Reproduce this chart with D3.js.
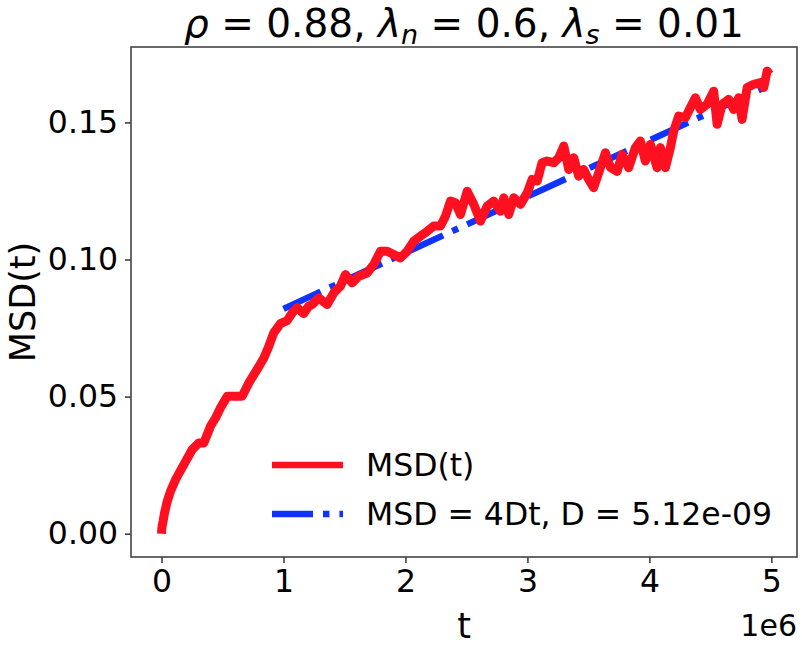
<!DOCTYPE html>
<html>
<head>
<meta charset="utf-8">
<script src="https://cdn.jsdelivr.net/npm/d3@7"></script>
<style>
  body { margin: 0; background: #fff; }
  text { font-family: "DejaVu Sans", sans-serif; fill: #000; }
</style>
</head>
<body>
<script>
// data (t in units of 1e6)
var tMega = [0, 0.002, 0.006, 0.013, 0.025, 0.047, 0.074, 0.115, 0.183, 0.252, 0.306, 0.347, 0.402, 0.443, 0.484, 0.539, 0.593, 0.661,
  0.716, 0.784, 0.839, 0.880, 0.920, 0.975, 1.030, 1.071, 1.112, 1.166, 1.207, 1.235, 1.289, 1.358, 1.412,
  1.467, 1.508, 1.563, 1.617, 1.686, 1.740, 1.795, 1.850, 1.904, 1.959, 2.014, 2.068, 2.123, 2.178, 2.232,
  2.287, 2.328, 2.369, 2.410, 2.451, 2.506, 2.560, 2.615, 2.670, 2.724, 2.779, 2.806, 2.847, 2.888, 2.943,
  2.998, 3.039, 3.080, 3.120, 3.161, 3.216, 3.257, 3.298, 3.339, 3.380, 3.420, 3.461, 3.502, 3.543, 3.584,
  3.639, 3.680, 3.735, 3.776, 3.830, 3.885, 3.926, 3.967, 4.008, 4.063, 4.090, 4.131, 4.172, 4.199, 4.240,
  4.295, 4.336, 4.377, 4.418, 4.473, 4.527, 4.555, 4.596, 4.650, 4.691, 4.732, 4.760, 4.801, 4.855, 4.910,
  4.937, 4.965, 4.986];
var msd = [0, 0.0015, 0.0030, 0.0045, 0.0076, 0.0118, 0.0155, 0.0197, 0.0252, 0.0307, 0.0331, 0.0331, 0.0392, 0.0422, 0.0459, 0.0501, 0.0501, 0.0501,
  0.0550, 0.0599, 0.0641, 0.0684, 0.0732, 0.0766, 0.0777, 0.0805, 0.0824, 0.0803, 0.0830, 0.0836, 0.0860, 0.0836, 0.0878,
  0.0903, 0.0945, 0.0915, 0.0939, 0.0951, 0.0982, 0.1030, 0.1030, 0.1018, 0.1006, 0.1030, 0.1067, 0.1085, 0.1103, 0.1122,
  0.1122, 0.1158, 0.1213, 0.1207, 0.1164, 0.1249, 0.1201, 0.1140, 0.1195, 0.1213, 0.1176, 0.1225, 0.1164, 0.1225, 0.1201,
  0.1243, 0.1292, 0.1286, 0.1353, 0.1359, 0.1353, 0.1371, 0.1414, 0.1328, 0.1371, 0.1304, 0.1328, 0.1292, 0.1262, 0.1316,
  0.1389, 0.1336, 0.1321, 0.1383, 0.1335, 0.1408, 0.1432, 0.1359, 0.1420, 0.1335, 0.1408, 0.1335, 0.1408, 0.1468, 0.1523,
  0.1517, 0.1554, 0.1590, 0.1547, 0.1566, 0.1614, 0.1493, 0.1566, 0.1584, 0.1547, 0.1590, 0.1511, 0.1627, 0.1639, 0.1645,
  0.1627, 0.1687, 0.1675];

// fitted line endpoints
var fitT = [1.0, 4.97];
var fitMSD = [0.0820, 0.1633];

var xTicks = [0, 1, 2, 3, 4, 5];
var yTicks = [0, 0.05, 0.10, 0.15];
var legendLabels = ["MSD(t)", "MSD = 4Dt, D = 5.12e-09"];

var W = 802, H = 648;
var frame = {left: 131, right: 797, top: 47, bottom: 557};
var red = "#fe1020", blue = "#1133ff";

var svg = d3.select("body").append("svg")
  .attr("width", W).attr("height", H);

var x = d3.scaleLinear().domain([-0.25, 5.21]).range([frame.left, frame.right]);
var y = d3.scaleLinear().domain([-0.0085, 0.1775]).range([frame.bottom, frame.top]);

// axes
var xAxis = svg.append("g")
  .attr("transform", "translate(0," + frame.bottom + ")")
  .call(d3.axisBottom(x).tickValues(xTicks).tickFormat(d3.format("d")).tickSize(6).tickPadding(7));
var yAxis = svg.append("g")
  .attr("transform", "translate(" + frame.left + ",0)")
  .call(d3.axisLeft(y).tickValues(yTicks).tickFormat(d3.format(".2f")).tickSize(6).tickPadding(7));

[xAxis, yAxis].forEach(function (g) {
  g.select(".domain").remove();
  g.selectAll(".tick line").attr("stroke", "#333").attr("stroke-width", 1.5);
  g.selectAll(".tick text").style("font-family", "DejaVu Sans").style("font-size", "31.5px").attr("fill", "#000");
});

// frame
svg.append("rect")
  .attr("x", frame.left).attr("y", frame.top)
  .attr("width", frame.right - frame.left).attr("height", frame.bottom - frame.top)
  .attr("fill", "none").attr("stroke", "#444").attr("stroke-width", 1.6);

// fit line (dash-dot)
var fitLine = d3.line()
  .x(function (d, i) { return x(fitT[i]); })
  .y(function (d) { return y(d); });
svg.append("path")
  .attr("d", fitLine(fitMSD))
  .attr("fill", "none").attr("stroke", blue).attr("stroke-width", 6.4)
  .attr("stroke-dasharray", "41,10,6.4,10");

// MSD curve
var msdLine = d3.line()
  .x(function (d, i) { return x(tMega[i]); })
  .y(function (d) { return y(d); });
svg.append("path")
  .attr("d", msdLine(msd))
  .attr("fill", "none").attr("stroke", red).attr("stroke-width", 9)
  .attr("stroke-linejoin", "round");

// title
var title = svg.append("text")
  .attr("x", (frame.left + frame.right) / 2).attr("y", 37)
  .attr("text-anchor", "middle").style("font-size", "39px");
title.append("tspan").style("font-style", "italic").text("ρ");
title.append("tspan").text(" = 0.88, ");
title.append("tspan").style("font-style", "italic").text("λ");
title.append("tspan").style("font-style", "italic").style("font-size", "27px").attr("dy", 7).text("n");
title.append("tspan").attr("dy", -7).text(" = 0.6, ");
title.append("tspan").style("font-style", "italic").text("λ");
title.append("tspan").style("font-style", "italic").style("font-size", "27px").attr("dy", 7).text("s");
title.append("tspan").attr("dy", -7).text(" = 0.01");

// axis labels
svg.append("text")
  .attr("x", (frame.left + frame.right) / 2).attr("y", 638)
  .attr("text-anchor", "middle").style("font-size", "35px").text("t");
svg.append("text")
  .attr("x", frame.right).attr("y", 636)
  .attr("text-anchor", "end").style("font-size", "30px").text("1e6");
svg.append("text")
  .attr("transform", "translate(35," + ((frame.top + frame.bottom) / 2) + ") rotate(-90)")
  .attr("text-anchor", "middle").style("font-size", "35px").text("MSD(t)");

// legend
var legend = svg.append("g");
var legendY = [465, 514];
var legendStyles = [
  {color: red, dash: null},
  {color: blue, dash: "41,10,6.4,10"}
];
legendLabels.forEach(function (lab, i) {
  var ln = legend.append("line")
    .attr("x1", 272).attr("x2", 343)
    .attr("y1", legendY[i]).attr("y2", legendY[i])
    .attr("stroke", legendStyles[i].color).attr("stroke-width", 6.4);
  if (legendStyles[i].dash) ln.attr("stroke-dasharray", legendStyles[i].dash);
  legend.append("text")
    .attr("x", 366).attr("y", legendY[i] + 11)
    .style("font-size", "31.5px").text(lab);
});
</script>
</body>
</html>
